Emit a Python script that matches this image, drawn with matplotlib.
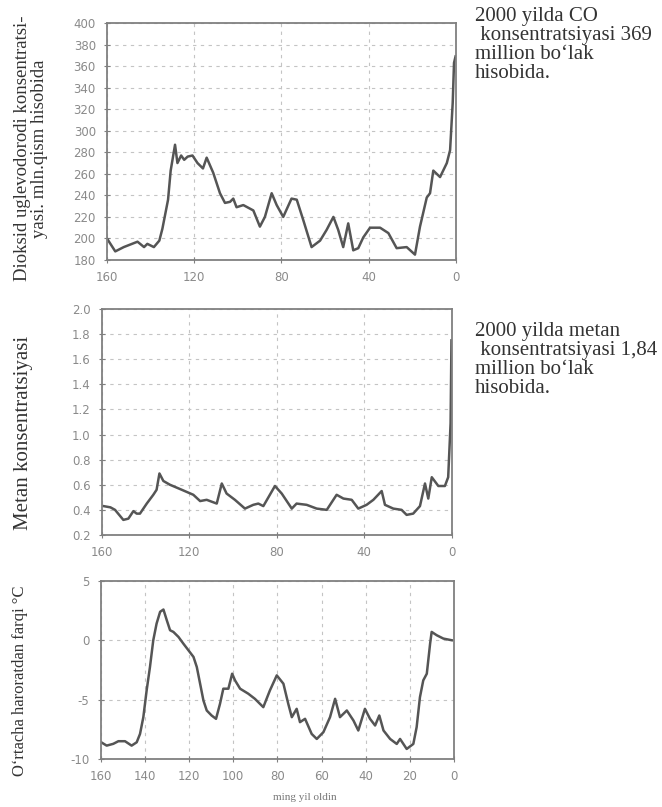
import matplotlib
matplotlib.use("Agg")
from matplotlib import pyplot as plt

# data (thousand years ago, value)
co2_years = [160, 156.2, 152.3, 146, 143, 141.5, 138.5, 136, 134.6, 132, 130.8, 128.8,
             127.7, 126, 124.6, 123, 120.8, 118.5, 116, 114.3, 111.3, 108.2, 105.9,
             103.6, 102.1, 100.6, 97.5, 92.9, 89.9, 87.6, 84.5, 82.2, 79.2, 75.4, 73,
             70, 66.2, 62.3, 59.3, 56.2, 54, 51.7, 49.4, 47.1, 44.8, 42.5, 39.4, 34.8,
             31, 27.2, 22.6, 18.8, 16.5, 13.4, 11.9, 10.4, 7.3, 4.2, 2.7, 1.5, 0.9, 0.2]
co2_ppm = [200, 188, 192, 197, 192, 195, 192, 198, 209, 236, 263, 287,
           270, 277, 273, 276, 277, 270, 265, 275, 261, 242, 233,
           234, 237, 229, 231, 226, 211, 220, 242, 231, 220, 237, 236,
           217, 192, 198, 208, 220, 208, 192, 214, 189, 191, 201, 210, 210,
           205, 191, 192, 185, 211, 238, 242, 263, 257, 270, 282, 326, 363, 369]

ch4_years = [159.2, 156, 153.9, 150.1, 147.8, 145.5, 144, 142.5, 139.4, 136.4, 134.9,
             133.6, 131.8, 128.8, 123.4, 118.1, 115, 112, 107.4, 105.1, 102.9, 99.1,
             94.5, 90.7, 88.4, 86.1, 80.8, 77.7, 73.1, 70.9, 66.3, 61.7, 57.1, 52.6,
             49.5, 45.7, 42.7, 38.9, 35.8, 32, 30.5, 26.7, 22.9, 20.6, 17.6, 14.5,
             12.2, 10.7, 9.1, 6.1, 3.1, 1.6, 0.5, 0.1]
ch4_ppm = [0.43, 0.42, 0.40, 0.32, 0.33, 0.39, 0.37, 0.37, 0.45, 0.52, 0.56,
           0.69, 0.63, 0.60, 0.56, 0.52, 0.47, 0.48, 0.45, 0.61, 0.53, 0.48,
           0.41, 0.44, 0.45, 0.43, 0.59, 0.53, 0.41, 0.45, 0.44, 0.41, 0.40, 0.52,
           0.49, 0.48, 0.41, 0.44, 0.48, 0.55, 0.44, 0.41, 0.40, 0.36, 0.37, 0.43,
           0.61, 0.49, 0.66, 0.59, 0.59, 0.66, 1.09, 1.75]

temp_years = [159.5, 157.3, 154.3, 152, 149, 146, 143.7, 142.2, 140.7, 139.2, 137.7,
              136.2, 134.7, 133.1, 131.6, 130.1, 128.6, 127.1, 124.8, 122.6, 120.3,
              118, 116.5, 115, 113.5, 112, 109.8, 107.8, 106, 104.5, 102.2, 100.5,
              99.2, 96.9, 93.2, 90.2, 86.4, 83.4, 80.3, 77.3, 75.1, 73.5, 71.3, 69.8,
              67.5, 64.5, 62.2, 59.2, 56.2, 53.9, 51.7, 48.6, 45.6, 43.4, 40.4, 38.1,
              35.8, 33.9, 32, 29, 26, 24.5, 21.5, 18.5, 17, 15.5, 14, 12.4, 10.9,
              10.2, 7.9, 4.9, 1.1]
temp_diff = [-8.6, -8.85, -8.7, -8.48, -8.48, -8.85, -8.57, -7.87, -6.46, -4.21, -2.25,
             0.0, 1.4, 2.39, 2.58, 1.69, 0.84, 0.7, 0.28, -0.28, -0.84,
             -1.4, -2.25, -3.65, -5.06, -5.9, -6.32, -6.6, -5.34, -4.07, -4.07, -2.81,
             -3.37, -4.07, -4.49, -4.92, -5.62, -4.21, -2.95, -3.65, -5.34, -6.46, -5.76, -6.88,
             -6.6, -7.87, -8.29, -7.72, -6.46, -4.92, -6.46, -5.9, -6.74, -7.58, -5.76, -6.6,
             -7.16, -6.32, -7.58, -8.29, -8.71, -8.29, -9.13, -8.71, -7.3, -4.78, -3.37, -2.81, -0.28,
             0.7, 0.42, 0.14, 0.0]

co2_ticks = list(range(180, 401, 20))
ch4_ticks = [0.2, 0.4, 0.6, 0.8, 1.0, 1.2, 1.4, 1.6, 1.8, 2.0]
temp_ticks = [-10, -5, 0, 5]

SERIF = "Liberation Serif"
LINE = "#555555"
SPINE = "#808080"
TICK = "#8a8a8a"

plt.rcParams["axes.unicode_minus"] = False


def style(ax):
    for s in ax.spines.values():
        s.set_color(SPINE)
        s.set_linewidth(1.3)
    ax.tick_params(direction="inout", length=4, width=0.8, color=SPINE,
                   labelcolor=TICK, labelsize=8.5, pad=6)
    ax.grid(True, color="#c4c4c4", linestyle=(0, (3, 4)), linewidth=0.8)
    ax.set_axisbelow(True)


fig = plt.figure(figsize=(6.62, 8.07), dpi=100)

# carbon dioxide
ax1 = fig.add_axes([0.1616, 0.6778, 0.5272, 0.2937])
ax1.plot(co2_years, co2_ppm, color=LINE, linewidth=1.8)
ax1.set_xlim(160, 0)
ax1.set_ylim(180, 400)
ax1.set_yticks(co2_ticks)
ax1.set_xticks([160, 120, 80, 40, 0])
style(ax1)

# methane
ax2 = fig.add_axes([0.1536, 0.3371, 0.5287, 0.2800])
ax2.plot(ch4_years, ch4_ppm, color=LINE, linewidth=1.8)
ax2.set_xlim(160, 0)
ax2.set_ylim(0.2, 2.0)
ax2.set_yticks(ch4_ticks)
ax2.set_yticklabels([f"{t:.1f}" for t in ch4_ticks])
ax2.set_xticks([160, 120, 80, 40, 0])
style(ax2)

# temperature
ax3 = fig.add_axes([0.1521, 0.0591, 0.5340, 0.2213])
ax3.plot(temp_years, temp_diff, color=LINE, linewidth=1.8)
ax3.set_xlim(160, 0)
ax3.set_ylim(-10, 5)
ax3.set_yticks(temp_ticks)
ax3.set_xticks(list(range(160, -1, -20)))
style(ax3)

# axis titles
fig.text(0.047, 0.816, "Dioksid uglevodorodi konsentratsi-\nyasi. mln.qism hisobida",
         rotation=90, ha="center", va="center", family=SERIF, fontsize=13.5,
         color="#333333", linespacing=1.05, multialignment="center")
fig.text(0.035, 0.463, "Metan konsentratsiyasi", rotation=90, ha="center", va="center",
         family=SERIF, fontsize=15, color="#333333")
fig.text(0.030, 0.157, "O‘rtacha haroratdan farqi °C", rotation=90, ha="center",
         va="center", family=SERIF, fontsize=12, color="#333333")
fig.text(0.461, 0.012, "ming yil oldin", ha="center", va="center", family=SERIF,
         fontsize=8, color="#777777")

# notes on the right
fig.text(0.717, 0.991, "2000 yilda CO\n konsentratsiyasi 369\nmillion bo‘lak\nhisobida.",
         ha="left", va="top", family=SERIF, fontsize=15, color="#333333",
         linespacing=1.0)
fig.text(0.717, 0.601, "2000 yilda metan\n konsentratsiyasi 1,84\nmillion bo‘lak\nhisobida.",
         ha="left", va="top", family=SERIF, fontsize=15, color="#333333",
         linespacing=1.0)

fig.savefig("out.png", dpi=100)
plt.close()
